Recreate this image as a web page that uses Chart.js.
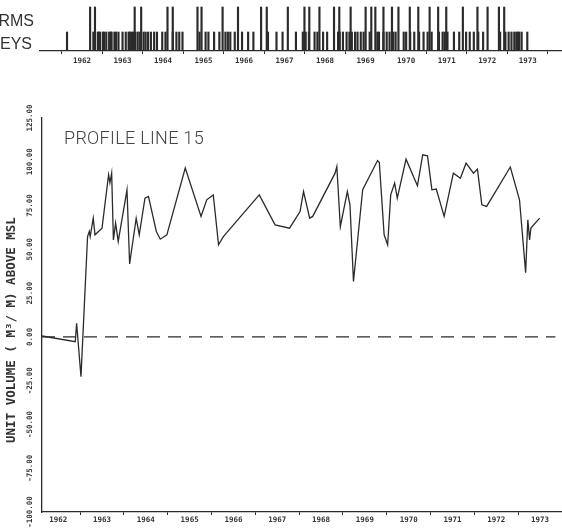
<!DOCTYPE html>
<html>
<head>
<meta charset="utf-8">
<script src="https://cdn.jsdelivr.net/npm/chart.js@4.4.1/dist/chart.umd.min.js"></script>
<style>
    html, body { margin: 0; padding: 0; background: #fff; overflow: hidden; }
    #wrap { position: relative; width: 562px; height: 528px; }
    #mainChart { position: absolute; left: 0; top: 0; }
    #stripChart { position: absolute; left: 0; top: 0; }
    .strip-label {
        position: absolute; white-space: nowrap; text-align: right;
        font-family: "Liberation Sans", Arial, sans-serif; font-size: 16px; color: #333;
    }
    #profile-title {
        position: absolute; left: 64px; top: 127px; white-space: nowrap;
        font-family: Roboto, "Liberation Sans", sans-serif; font-weight: 300;
        font-size: 18px; color: #444; letter-spacing: 0.3px;
    }
</style>
</head>
<body>
<div id="wrap">
    <canvas id="mainChart" width="562" height="528"></canvas>
    <canvas id="stripChart" width="562" height="75"></canvas>
    <div class="strip-label" style="top: 12px; right: 528px;">STORMS</div>
    <div class="strip-label" style="top: 35px; right: 530px;">SURVEYS</div>
    <div id="profile-title">PROFILE LINE 15</div>
</div>
<script>
/* Data */
const yearLabels = ['1962', '1963', '1964', '1965', '1966', '1967', '1968', '1969', '1970', '1971', '1972', '1973'];
const yearStarts = [1962, 1963, 1964, 1965, 1966, 1967, 1968, 1969, 1970, 1971, 1972, 1973];

const profileDates = [1962.13, 1962.89, 1962.92, 1963.02, 1963.17, 1963.21, 1963.23, 1963.30, 1963.34,
    1963.50, 1963.65, 1963.68, 1963.72, 1963.76, 1963.81, 1963.87, 1964.07, 1964.13, 1964.28,
    1964.35, 1964.48, 1964.56, 1964.74, 1964.83, 1964.98, 1965.40, 1965.76, 1965.89, 1966.04,
    1966.16, 1966.27, 1966.73, 1967.09, 1967.45, 1967.78, 1968.02, 1968.10, 1968.24, 1968.31,
    1968.82, 1968.86, 1968.94, 1969.10, 1969.16, 1969.24, 1969.45, 1969.79, 1969.83, 1969.94,
    1970.02, 1970.09, 1970.18, 1970.24, 1970.44, 1970.70, 1970.82, 1970.93, 1971.03, 1971.13,
    1971.31, 1971.52, 1971.68, 1971.81, 1971.98, 1972.07, 1972.17, 1972.28, 1972.82, 1973.03,
    1973.17, 1973.22, 1973.26, 1973.29, 1973.49];
const profileVolumes = [0.5, -2.7, 7.8, -22.7, 57.3, 60.2, 57.3, 67.8, 58.3,
    62.1, 92.6, 88, 93.5, 55.4, 65, 54.5, 84, 41.7, 67.8,
    58.3, 79.2, 80.2, 60.2, 55.8, 58.3, 96.4, 68.8, 78.3, 81.1,
    52.6, 57.3, 70.7, 81.1, 64, 62.1, 71.6, 83, 67.8, 68.8,
    93.5, 97.3, 63, 83, 75.4, 31.6, 84, 100.7, 99.6, 58.3,
    52.6, 81.1, 87.8, 79.2, 101.5, 86.3, 104, 103.4, 84, 84.4,
    68.8, 93.5, 90.6, 99.2, 93.5, 95.8, 75.4, 74.5, 97, 78.3,
    36.7, 66.9, 55.4, 62.1, 67.8];

// zero reference line (dashed)
const zeroLineDates = [1962.13, 1973.85];
const zeroLineValues = [0, 0];

// storm events in the top strip
const stormDates = [1962.70, 1962.82, 1963.80, 1963.96, 1964.61, 1964.74, 1965.35, 1965.45, 1965.97,
    1966.35, 1966.92, 1967.06, 1967.58, 1967.99, 1968.11, 1968.36, 1968.72, 1968.85, 1969.13,
    1969.50, 1969.64, 1969.74, 1969.94, 1970.15, 1970.31, 1970.59, 1970.80, 1971.08, 1971.29,
    1971.49, 1971.90, 1972.26, 1972.51, 1972.79, 1972.92];

// extra surveys seen in the strip between profile dates
const extraSurveyDates = [1962.78, 1962.95, 1963.05, 1963.10, 1963.40, 1963.58, 1963.92, 1964.02,
    1964.20, 1964.90, 1965.55, 1965.62, 1966.10, 1966.45, 1966.60, 1967.30, 1967.95, 1968.45,
    1968.55, 1969.03, 1969.30, 1969.38, 1969.60, 1970.50, 1970.60, 1971.40, 1971.45, 1972.40,
    1972.95, 1973.10, 1973.35];

const yTicks = [-100, -75, -50, -25, 0, 25, 50, 75, 100, 125];

const inkColor = '#2b2b2b';
const tickFont = { family: '"DejaVu Sans Mono", monospace', size: 7.5, weight: 'bold' };

function toPoints(xs, ys) {
    return xs.map((x, i) => ({ x: x, y: ys[i] }));
}

// put labels at mid-year, tick marks (offset grid) at year starts
function yearTicks(scale) {
    scale.ticks = yearStarts.map(y => ({ value: y + 0.5 }));
}

/* Main profile chart */
new Chart(document.getElementById('mainChart'), {
    type: 'line',
    data: {
        datasets: [{
            data: toPoints(profileDates, profileVolumes),
            borderColor: inkColor,
            borderWidth: 1.3,
            pointRadius: 0,
            tension: 0
        }, {
            data: toPoints(zeroLineDates, zeroLineValues),
            borderColor: inkColor,
            borderWidth: 1.4,
            borderDash: [13, 8],
            pointRadius: 0
        }]
    },
    options: {
        responsive: false,
        animation: false,
        layout: { padding: { top: 118, right: 0, left: 0, bottom: 0 } },
        plugins: {
            legend: { display: false },
            tooltip: { enabled: false }
        },
        scales: {
            x: {
                type: 'linear',
                min: 1962.13,
                max: 1974.0,
                afterBuildTicks: yearTicks,
                afterFit: (scale) => { scale.height = 16; },
                grid: { drawOnChartArea: false, offset: true, tickLength: 3, color: inkColor },
                border: { display: true, color: inkColor, width: 1.3 },
                ticks: {
                    autoSkip: false,
                    maxRotation: 0,
                    padding: 1,
                    color: '#333',
                    font: tickFont,
                    callback: (v, i) => yearLabels[i]
                }
            },
            y: {
                min: -100,
                max: 125,
                afterBuildTicks: (scale) => { scale.ticks = yTicks.map(v => ({ value: v })); },
                afterFit: (scale) => { scale.width = 42; },
                grid: { drawOnChartArea: false, drawTicks: false },
                border: { display: true, color: inkColor, width: 1.3 },
                ticks: {
                    minRotation: 90,
                    maxRotation: 90,
                    crossAlign: 'center',
                    padding: -4,
                    color: '#333',
                    font: tickFont,
                    callback: (v) => v.toFixed(2)
                },
                title: {
                    display: true,
                    text: 'UNIT VOLUME ( M³/ M) ABOVE MSL    ',
                    color: '#333',
                    font: { family: '"DejaVu Sans Mono", monospace', size: 12.5, weight: 'bold' },
                    padding: { top: 4, bottom: 0 }
                }
            }
        }
    }
});

/* Top strip: storms and surveys */
new Chart(document.getElementById('stripChart'), {
    type: 'bar',
    data: {
        datasets: [{
            data: stormDates.map(d => ({ x: d, y: 44 })),
            backgroundColor: inkColor,
            barThickness: 1.5,
            grouped: false
        }, {
            data: profileDates.concat(extraSurveyDates).map(d => ({ x: d, y: 19 })),
            backgroundColor: inkColor,
            barThickness: 1.5,
            grouped: false
        }]
    },
    options: {
        responsive: false,
        animation: false,
        layout: { padding: { top: 6, left: 40, right: 0, bottom: 0 } },
        plugins: {
            legend: { display: false },
            tooltip: { enabled: false }
        },
        scales: {
            x: {
                type: 'linear',
                min: 1962,
                max: 1973.81,
                afterBuildTicks: yearTicks,
                afterFit: (scale) => { scale.height = 24; },
                grid: { drawOnChartArea: false, offset: true, tickLength: 3, color: inkColor },
                border: { display: true, color: inkColor, width: 1.3 },
                ticks: {
                    autoSkip: false,
                    maxRotation: 0,
                    padding: 3,
                    color: '#333',
                    font: tickFont,
                    callback: (v, i) => yearLabels[i]
                }
            },
            y: {
                display: false,
                min: 0,
                max: 45
            }
        }
    }
});
</script>
</body>
</html>
